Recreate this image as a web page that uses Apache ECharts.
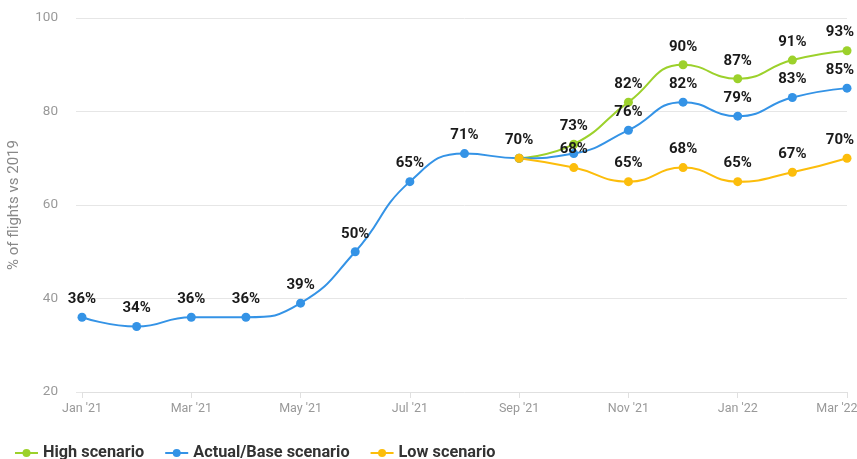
<!DOCTYPE html>
<html><head><meta charset="utf-8">
<script src="https://cdn.jsdelivr.net/npm/echarts@6/dist/echarts.min.js"></script>
<style>html,body{margin:0;padding:0;background:#fff}#c{width:857px;height:459px}</style>
</head><body><div id="c"></div>
<script>
const categories = ["Jan '21","Feb '21","Mar '21","Apr '21","May '21","Jun '21","Jul '21","Aug '21","Sep '21","Oct '21","Nov '21","Dec '21","Jan '22","Feb '22","Mar '22"];
const highScenario = [null,null,null,null,null,null,null,null,70,73,82,90,87,91,93];
const baseScenario = [36,34,36,36,39,50,65,71,70,71,76,82,79,83,85];
const lowScenario  = [null,null,null,null,null,null,null,null,70,68,65,68,65,67,70];
const yTicks = [20,40,60,80,100];
// which points carry a value label
const highLabels = [false,false,false,false,false,false,false,false,false,true,true,true,true,true,true];
const baseLabels = [true,true,true,true,true,true,true,true,true,false,true,true,true,true,true];
const lowLabels  = [false,false,false,false,false,false,false,false,false,true,true,true,true,true,true];

function mk(vals, flags){
  const last = vals.length-1;
  return vals.map((v,i)=> v==null ? null : {value:v, label:{show:flags[i], offset: i===last?[-7,0]:[0,0]}});
}
const labelStyle = {position:'top', distance:6, formatter:p=>p.value+'%', fontFamily:'Roboto', fontWeight:'bold', fontSize:15, color:'#1a1a1a'};
const chart = echarts.init(document.getElementById('c'));
const font = 'Roboto';
chart.setOption({
  animation:false,
  textStyle:{fontFamily:font},
  grid:{left:82,right:10,top:18,bottom:67,outerBoundsMode:'none',containLabel:false},
  legend:{
    left:9, top:440, itemGap:20, itemWidth:23, itemHeight:10,
    textStyle:{fontFamily:font,fontWeight:'bold',fontSize:16.3,color:'#333'},
    data:['High scenario','Actual/Base scenario','Low scenario']
  },
  xAxis:{
    type:'category', boundaryGap:false, data:categories,
    axisLine:{lineStyle:{color:'#e0e0e0'}},
    axisTick:{interval:1,length:6,lineStyle:{color:'#e0e0e0'}},
    axisLabel:{interval:1,color:'#999',fontSize:12.5,fontFamily:font,margin:10,
      formatter:(v,i)=> i===categories.length-1 ? '{l|'+v+'}' : v,
      rich:{l:{color:'#999',fontSize:12.5,fontFamily:font,padding:[0,20,0,0]}}}
  },
  yAxis:{
    type:'value', min:yTicks[0], max:yTicks[yTicks.length-1], interval:20,
    name:'% of flights vs 2019', nameLocation:'middle', nameGap:60, nameRotate:90,
    nameTextStyle:{color:'#888',fontSize:15,fontFamily:font},
    axisLine:{show:false},
    axisTick:{show:true,length:6,lineStyle:{color:'#e6e6e6'}},
    axisLabel:{color:'#999',fontSize:13.5,fontFamily:font,margin:24},
    splitLine:{lineStyle:{color:'#e6e6e6'}}
  },
  series:[
    {name:'High scenario',type:'line',smooth:true,data:mk(highScenario,highLabels),
     color:'#9cd12b',symbol:'circle',symbolSize:9,lineStyle:{width:2},label:labelStyle},
    {name:'Actual/Base scenario',type:'line',smooth:true,data:mk(baseScenario,baseLabels),
     color:'#3493e6',symbol:'circle',symbolSize:9,lineStyle:{width:2},label:labelStyle},
    {name:'Low scenario',type:'line',smooth:true,data:mk(lowScenario,lowLabels),
     color:'#fcbd0b',symbol:'circle',symbolSize:9,lineStyle:{width:2},label:labelStyle}
  ]
});
</script></body></html>
